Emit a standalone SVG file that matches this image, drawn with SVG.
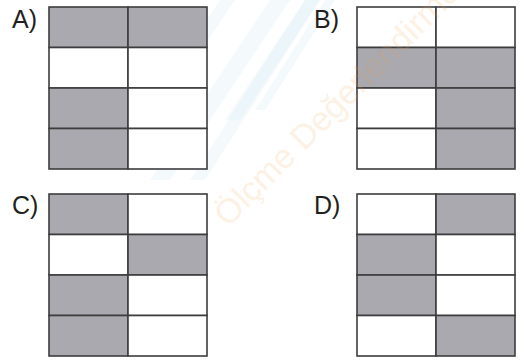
<svg xmlns="http://www.w3.org/2000/svg" width="520" height="361" viewBox="0 0 520 361">
<style>
.c{stroke:#3d3d3f;stroke-width:1.6}
.w{fill:#ffffff}
.g{fill:#a9a9af}
.lbl{font-family:"Liberation Sans",Arial,sans-serif;font-size:25px;fill:#231f20}
.wm{font-family:"Liberation Sans",Arial,sans-serif;font-size:34px;fill:#f5a04a;opacity:0.14}
.bl{fill:#dcebf6;opacity:0.3}
</style>
<rect width="520" height="361" fill="#ffffff"/>
<g id="watermark-shapes">
<polygon class="bl" points="150,180 170,180 290,0 270,0"/>
<polygon class="bl" points="190,180 205,180 320,0 305,0"/>
<polygon class="bl" points="225,120 240,120 320,0 305,0"/>
<polygon class="bl" points="120,150 135,150 235,0 220,0"/>
<polygon class="bl" points="255,110 265,110 335,0 325,0"/>
</g>
<g id="grid-A">
<rect class="c g" x="49" y="7" width="79" height="40.5"/>
<rect class="c g" x="128" y="7" width="79" height="40.5"/>
<rect class="c w" x="49" y="47.5" width="79" height="40.5"/>
<rect class="c w" x="128" y="47.5" width="79" height="40.5"/>
<rect class="c g" x="49" y="88" width="79" height="40.5"/>
<rect class="c w" x="128" y="88" width="79" height="40.5"/>
<rect class="c g" x="49" y="128.5" width="79" height="40.5"/>
<rect class="c w" x="128" y="128.5" width="79" height="40.5"/>
<text class="lbl" x="12" y="28">A)</text>
</g>
<g id="grid-B">
<rect class="c w" x="357" y="7" width="79" height="40.5"/>
<rect class="c w" x="436" y="7" width="79" height="40.5"/>
<rect class="c g" x="357" y="47.5" width="79" height="40.5"/>
<rect class="c g" x="436" y="47.5" width="79" height="40.5"/>
<rect class="c w" x="357" y="88" width="79" height="40.5"/>
<rect class="c g" x="436" y="88" width="79" height="40.5"/>
<rect class="c w" x="357" y="128.5" width="79" height="40.5"/>
<rect class="c g" x="436" y="128.5" width="79" height="40.5"/>
<text class="lbl" x="314" y="28">B)</text>
</g>
<g id="grid-C">
<rect class="c g" x="49" y="194" width="79" height="40.5"/>
<rect class="c w" x="128" y="194" width="79" height="40.5"/>
<rect class="c w" x="49" y="234.5" width="79" height="40.5"/>
<rect class="c g" x="128" y="234.5" width="79" height="40.5"/>
<rect class="c g" x="49" y="275" width="79" height="40.5"/>
<rect class="c w" x="128" y="275" width="79" height="40.5"/>
<rect class="c g" x="49" y="315.5" width="79" height="40.5"/>
<rect class="c w" x="128" y="315.5" width="79" height="40.5"/>
<text class="lbl" x="12" y="214">C)</text>
</g>
<g id="grid-D">
<rect class="c w" x="357" y="194" width="79" height="40.5"/>
<rect class="c g" x="436" y="194" width="79" height="40.5"/>
<rect class="c g" x="357" y="234.5" width="79" height="40.5"/>
<rect class="c w" x="436" y="234.5" width="79" height="40.5"/>
<rect class="c g" x="357" y="275" width="79" height="40.5"/>
<rect class="c w" x="436" y="275" width="79" height="40.5"/>
<rect class="c w" x="357" y="315.5" width="79" height="40.5"/>
<rect class="c g" x="436" y="315.5" width="79" height="40.5"/>
<text class="lbl" x="314" y="214">D)</text>
</g>
<g id="watermark-text">
<text class="wm" transform="translate(228,228) rotate(-45)">Ölçme Değerlendirme</text>
</g>
</svg>
